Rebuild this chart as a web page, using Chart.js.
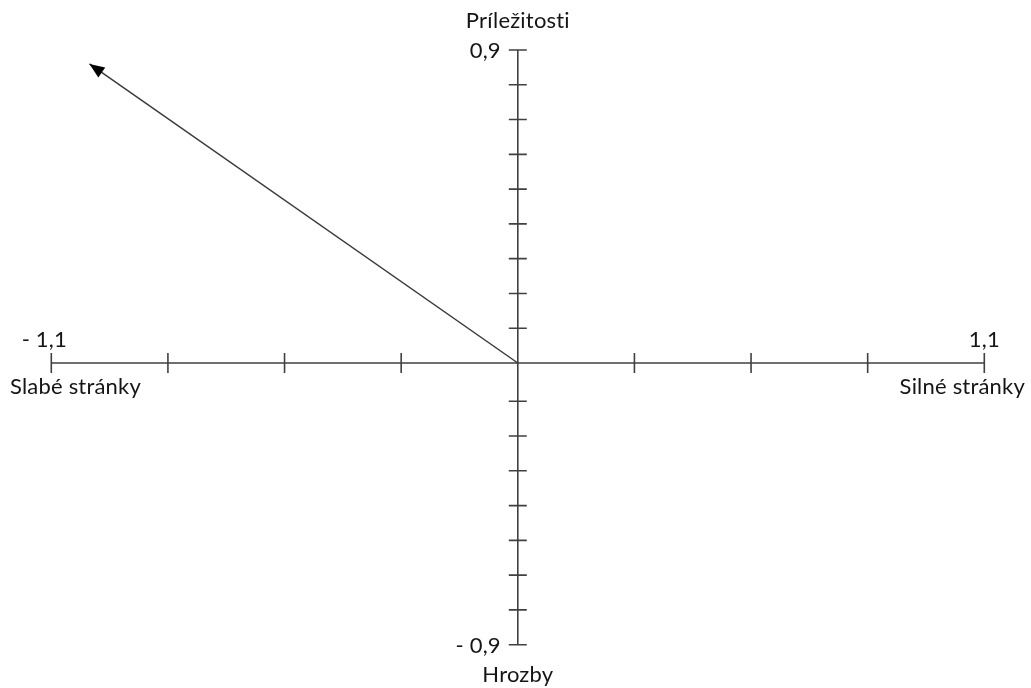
<!DOCTYPE html>
<html>
<head>
<meta charset="utf-8">
<script src="https://cdn.jsdelivr.net/npm/chart.js@4.4.0/dist/chart.umd.min.js"></script>
<style>
  html, body { margin: 0; padding: 0; background: #ffffff; }
  #wrap { width: 1031px; height: 688px; position: relative; }
</style>
</head>
<body>
<div id="wrap"><canvas id="c" width="1031" height="688"></canvas></div>
<script>
// ---- data ----
const xRange = [-1.1, 1.1];
const yRange = [-0.81, 0.9];
const xTickValues = [-1.1, -0.825, -0.55, -0.275, 0.275, 0.55, 0.825, 1.1];
const yTickValues = [0.9, 0.8, 0.7, 0.6, 0.5, 0.4, 0.3, 0.2, 0.1,
                     -0.11, -0.21, -0.31, -0.41, -0.51, -0.61, -0.71, -0.81];
const xEndLabels = ['- 1,1', '1,1'];
const yEndLabels = ['0,9', '- 0,9'];
const xAxisNames = ['Slabé stránky', 'Silné stránky'];
const yAxisNames = ['Príležitosti', 'Hrozby'];
const vectorX = [0, -1.01];
const vectorY = [0, 0.86];

const FONT = '22px Lato';
const AXIS_COLOR = '#404040';
const TEXT_COLOR = '#151515';

const swotAxes = {
  id: 'swotAxes',
  beforeDatasetsDraw(chart) {
    const ctx = chart.ctx;
    const xs = chart.scales.x, ys = chart.scales.y;
    const x0 = xs.getPixelForValue(0), y0 = ys.getPixelForValue(0);
    const xl = xs.getPixelForValue(xRange[0]), xr = xs.getPixelForValue(xRange[1]);
    const yt = ys.getPixelForValue(yRange[1]), yb = ys.getPixelForValue(yRange[0]);
    ctx.save();
    ctx.strokeStyle = AXIS_COLOR;
    ctx.lineWidth = 1.6;
    ctx.beginPath();
    ctx.moveTo(xl, y0); ctx.lineTo(xr, y0);
    ctx.moveTo(x0, yt); ctx.lineTo(x0, yb);
    xTickValues.forEach(v => {
      const px = xs.getPixelForValue(v);
      ctx.moveTo(px, y0 - 10); ctx.lineTo(px, y0 + 10);
    });
    yTickValues.forEach(v => {
      const py = ys.getPixelForValue(v);
      ctx.moveTo(x0 - 9, py); ctx.lineTo(x0 + 9, py);
    });
    ctx.stroke();

    ctx.fillStyle = TEXT_COLOR;
    ctx.font = FONT;
    if ('letterSpacing' in ctx) ctx.letterSpacing = '0.2px';
    ctx.textBaseline = 'alphabetic';
    // x end labels
    ctx.textAlign = 'center';
    ctx.fillText(xEndLabels[0], xl - 7, y0 - 16);
    ctx.fillText(xEndLabels[1], xr, y0 - 16);
    // x axis names
    ctx.textAlign = 'left';
    ctx.fillText(xAxisNames[0], 10, y0 + 31);
    ctx.textAlign = 'right';
    ctx.fillText(xAxisNames[1], 1025, y0 + 31);
    // y end labels
    ctx.textAlign = 'right';
    ctx.fillText(yEndLabels[0], x0 - 17, yt + 8);
    ctx.fillText(yEndLabels[1], x0 - 17, yb + 8);
    // y axis names
    ctx.textAlign = 'center';
    ctx.fillText(yAxisNames[0], x0, yt - 22);
    ctx.fillText(yAxisNames[1], x0, yb + 37);
    ctx.restore();
  },
  afterDatasetsDraw(chart) {
    const ctx = chart.ctx;
    const xs = chart.scales.x, ys = chart.scales.y;
    const n = vectorX.length;
    const tx = xs.getPixelForValue(vectorX[n - 1]), ty = ys.getPixelForValue(vectorY[n - 1]);
    const fx = xs.getPixelForValue(vectorX[n - 2]), fy = ys.getPixelForValue(vectorY[n - 2]);
    const ang = Math.atan2(ty - fy, tx - fx);
    const len = 15, half = 6;
    ctx.save();
    ctx.fillStyle = '#000000';
    ctx.translate(tx, ty);
    ctx.rotate(ang);
    ctx.beginPath();
    ctx.moveTo(0, 0);
    ctx.lineTo(-len, -half);
    ctx.lineTo(-len, half);
    ctx.closePath();
    ctx.fill();
    ctx.restore();
  }
};

new Chart(document.getElementById('c'), {
  type: 'scatter',
  data: {
    datasets: [{
      data: vectorX.map((x, i) => ({ x: x, y: vectorY[i] })),
      showLine: true,
      borderColor: '#3a3a3a',
      borderWidth: 1.5,
      pointRadius: 0,
      fill: false
    }]
  },
  options: {
    responsive: false,
    animation: false,
    layout: { padding: { left: 51.3, right: 46.7, top: 50, bottom: 43.3 } },
    plugins: { legend: { display: false }, tooltip: { enabled: false } },
    scales: {
      x: { type: 'linear', min: xRange[0], max: xRange[1], display: false },
      y: { type: 'linear', min: yRange[0], max: yRange[1], display: false }
    }
  },
  plugins: [swotAxes]
});
</script>
</body>
</html>
